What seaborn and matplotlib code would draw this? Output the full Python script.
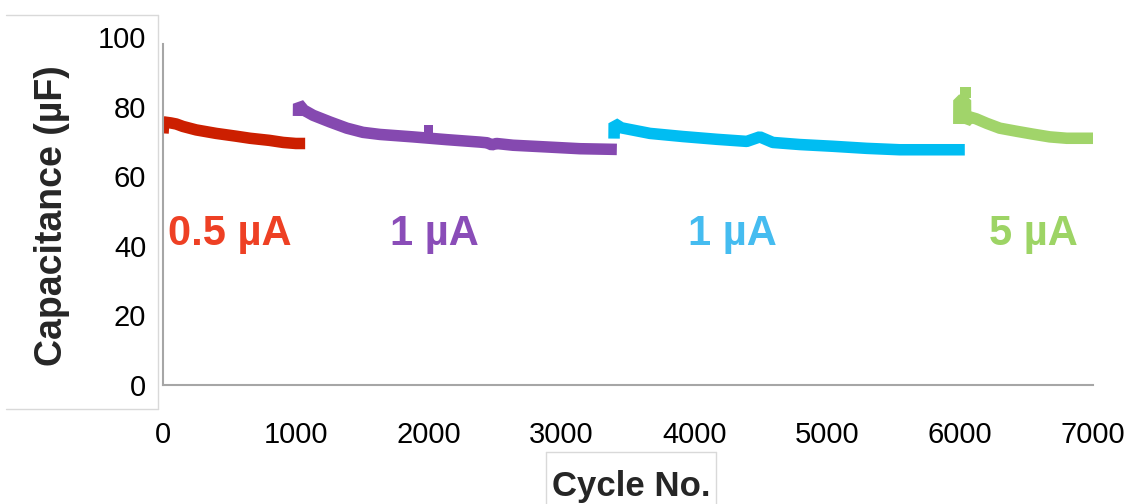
import matplotlib
matplotlib.use("Agg")
import matplotlib.pyplot as plt
import seaborn as sns
import pandas as pd
from matplotlib.lines import Line2D

# ---- data ----
red_cycles = [0, 5, 60, 100, 150, 250, 400, 550, 655, 800, 905, 1000, 1070]
red_cap = [72.3, 75.6, 75.3, 75.0, 74.3, 73.3, 72.3, 71.5, 70.9, 70.3, 69.7, 69.4, 69.4]

purple_cycles = [1020, 1021, 1060, 1130, 1256, 1384, 1505, 1633, 1881, 2137, 2385, 2440, 2475,
                 2510, 2634, 2889, 3138, 3416]
purple_cap = [77.3, 80.8, 79.0, 77.5, 75.6, 73.8, 72.6, 72.0, 71.3, 70.5, 69.8, 69.6, 69.0,
              69.4, 68.9, 68.4, 67.9, 67.7]
purple_outlier_cycle = [2000]
purple_outlier_cap = [73.5]

blue_cycles = [3395, 3396, 3450, 3665, 3913, 4169, 4394, 4492, 4590, 4793, 5041, 5297,
               5545, 5794, 6035]
blue_cap = [70.8, 75.2, 73.9, 72.3, 71.4, 70.6, 70.0, 71.3, 69.7, 69.1, 68.6, 68.0,
            67.6, 67.6, 67.6]

green_cycles = [5990, 5991, 6040, 6041, 6075, 6120, 6200, 6298, 6426, 6546, 6674, 6802, 7028]
green_cap = [75.0, 81.8, 81.8, 75.5, 77.0, 76.5, 75.2, 73.8, 72.9, 72.1, 71.3, 70.9, 70.9]
green_spike_cycle = [6040]
green_spike_cap = [84.0]

segments = ["0.5 µA", "1 µA (a)", "1 µA (b)", "5 µA"]
seg_labels = ["0.5 µA", "1 µA", "1 µA", "5 µA"]
label_x = [505, 2040, 4283, 6553]
label_y = [40.3, 40.3, 40.3, 40.3]

line_colors = ["#CC1F00", "#8549B0", "#00BDF2", "#A1D46A"]
text_colors = ["#EE4024", "#8A4DB8", "#45BCF0", "#9DD465"]

x_ticks = [0, 1000, 2000, 3000, 4000, 5000, 6000, 7000]
y_ticks = [0, 20, 40, 60, 80, 100]

# ---- build table ----
frames = []
for seg, cyc, cap in zip(segments,
                         [red_cycles, purple_cycles, blue_cycles, green_cycles],
                         [red_cap, purple_cap, blue_cap, green_cap]):
    frames.append(pd.DataFrame({"cycle": cyc, "cap": cap, "segment": seg}))
df = pd.concat(frames, ignore_index=True)

sns.set_style("white")
plt.rcParams["font.family"] = ["Liberation Sans", "DejaVu Sans"]

W, H = 1129, 504
fig = plt.figure(figsize=(W / 100, H / 100), dpi=100)
ax = fig.add_axes([163 / W, 1 - 385 / H, (1093 - 163) / W, (385 - 37) / H])

sns.lineplot(data=df, x="cycle", y="cap", hue="segment", hue_order=segments,
             palette=dict(zip(segments, line_colors)), linewidth=8.3,
             legend=False, ax=ax, estimator=None, sort=False)
for l in ax.get_lines():
    l.set_solid_capstyle("butt")
    l.set_solid_joinstyle("bevel")

sns.scatterplot(x=purple_outlier_cycle, y=purple_outlier_cap, marker="s", s=40,
                color=line_colors[1], edgecolor="none", ax=ax, legend=False)
sns.scatterplot(x=green_spike_cycle, y=green_spike_cap, marker="s", s=70,
                color=line_colors[3], edgecolor="none", ax=ax, legend=False)

for txt, xx, yy, c in zip(seg_labels, label_x, label_y, text_colors):
    ax.text(xx, yy, txt, color=c, fontsize=30, fontweight="bold",
            ha="center", va="baseline")

ax.set_xlim(0, 7000)
ax.set_ylim(0, 100)
ax.set_xticks(x_ticks)
ax.set_yticks(y_ticks)
ax.set_xticklabels([str(v) for v in x_ticks])
ax.set_yticklabels([str(v) for v in y_ticks])
ax.tick_params(axis="x", length=0, pad=26, labelsize=21, labelcolor="black")
ax.tick_params(axis="y", length=0, pad=12, labelsize=21, labelcolor="black")
ax.set_xlabel("")
ax.set_ylabel("")
for s in ["top", "right"]:
    ax.spines[s].set_visible(False)
for s in ["left", "bottom"]:
    ax.spines[s].set_color("#A6A6A6")
    ax.spines[s].set_linewidth(1.5)
ax.spines["left"].set_bounds(0, 98)

fig.text(52 / W, 1 - 216 / H, "Capacitance (µF)", rotation=90, fontsize=27,
         fontweight="bold", ha="center", va="center")
fig.text(631 / W, 1 - 496 / H, "Cycle No.", fontsize=25, fontweight="bold",
         ha="center", va="baseline")

# light frames present in the reference layout
fc = "#D9D9D9"
def fline(xs, ys):
    fig.add_artist(Line2D([x / W for x in xs], [1 - y / H for y in ys],
                          color=fc, lw=1, transform=fig.transFigure))
fline([6, 158], [15, 15])
fline([158, 158], [15, 409])
fline([6, 158], [409, 409])
fline([546, 546], [452, 504])
fline([546, 716], [452, 452])
fline([716, 716], [452, 504])

fig.savefig("out.png", dpi=100)
